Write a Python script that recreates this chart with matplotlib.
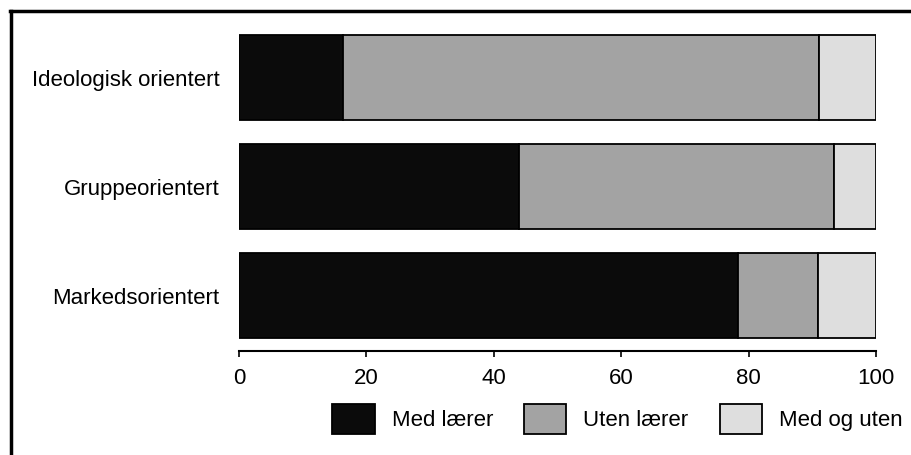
import matplotlib
matplotlib.use("Agg")
import matplotlib.pyplot as plt
import numpy as np
from matplotlib.patches import Patch
from matplotlib.lines import Line2D

plt.rcParams['font.family'] = ['Liberation Sans', 'DejaVu Sans']

# categories listed top to bottom as in the chart
categories = ["Ideologisk orientert", "Gruppeorientert", "Markedsorientert"]
med_laerer = [16.3, 44.0, 78.3]
uten_laerer = [74.8, 49.4, 12.6]
med_og_uten = [8.9, 6.6, 9.1]
series_names = ["Med lærer", "Uten lærer", "Med og uten"]
colors = ["#0b0b0b", "#a3a3a3", "#dedede"]
xticks = [0, 20, 40, 60, 80, 100]

fig = plt.figure(figsize=(9.12, 4.55), dpi=100)
ax = fig.add_axes([239/912, 1 - 351/455, (876 - 239)/912, (351 - 29)/455])

y = np.arange(len(categories))[::-1]
left = np.zeros(len(categories))
for vals, col in zip([med_laerer, uten_laerer, med_og_uten], colors):
    ax.barh(y, vals, left=left, height=0.78, color=col,
            edgecolor="black", linewidth=1.3)
    left += np.array(vals)

ax.set_xlim(0, 100)
ax.set_ylim(-0.505, 2.445)
ax.set_yticks(y)
ax.set_yticklabels(categories, fontsize=16)
ax.set_xticks(xticks)
ax.set_xticklabels([str(t) for t in xticks], fontsize=16)
ax.tick_params(axis="y", length=0, pad=14)
ax.tick_params(axis="x", length=4, width=1.2, pad=8)
for s in ["top", "right", "left"]:
    ax.spines[s].set_visible(False)
ax.spines["bottom"].set_linewidth(1.5)

handles = [Patch(facecolor=c, edgecolor="black", linewidth=1.3) for c in colors]
fig.legend(handles, series_names, loc="center", ncol=3,
           bbox_to_anchor=(617.5/912, 1 - 419/455), frameon=False,
           fontsize=16, handlelength=1.9, handleheight=1.7,
           handletextpad=0.77, columnspacing=1.4, borderpad=0)

# page frame: top and left rules
fig.add_artist(Line2D([10/912, 1], [1 - 11/455, 1 - 11/455],
                      transform=fig.transFigure, color="black", linewidth=2.5))
fig.add_artist(Line2D([11/912, 11/912], [0, 1 - 11/455],
                      transform=fig.transFigure, color="black", linewidth=2.5))

fig.savefig("out.png", dpi=100)
